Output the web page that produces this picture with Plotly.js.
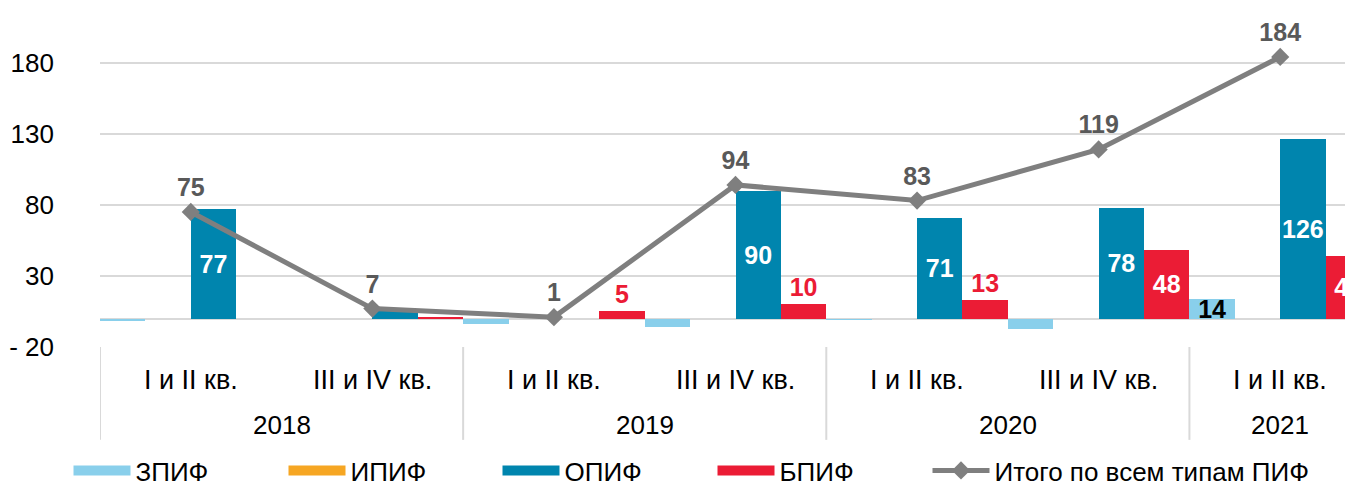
<!DOCTYPE html>
<html>
<head>
<meta charset="utf-8">
<script src="https://cdn.plot.ly/plotly-3.0.1.min.js"></script>
<style>
html,body{margin:0;padding:0;overflow:hidden;background:#fff;}
#chart{width:1371px;height:494px;}
</style>
</head>
<body>
<div id="chart"></div>
<script>
// ---- data ----
const periods = ["I и II кв.","III и IV кв.","I и II кв.","III и IV кв.","I и II кв.","III и IV кв.","I и II кв."];
const years = ["2018","2018","2019","2019","2020","2020","2021"];
const zpif = [-2, -0.5, -4, -6, -1, -7, 14];
const ipif = [0, 0, 0, 0, 0, 0, 0];
const opif = [77, 6.5, 0, 90, 71, 78, 126];
const bpif = [0, 1, 5, 10, 13, 48, 44];
const total = [75, 7, 1, 94, 83, 119, 184];
const yTickVals = [-20, 30, 80, 130, 180];
const yTickText = ["- 20", "30", "80", "130", "180"];
const seriesNames = ["ЗПИФ", "ИПИФ", "ОПИФ", "БПИФ", "Итого по всем типам ПИФ"];

// ---- styling ----
const FONT = "Liberation Sans, Arial, sans-serif";
const C_Z = "#89CFEB", C_I = "#F6A623", C_O = "#0085AE", C_B = "#EB1C35", C_T = "#7F7F7F";
const cats = years.map((y, i) => y + " " + periods[i]);

const zText = zpif.map(v => v >= 10 ? String(v) : "");
const oText = opif.map(v => v >= 10 ? String(v) : "");
const bText = bpif.map(v => v >= 5 ? String(v) : "");
const bPos = bpif.map(v => v >= 20 ? "inside" : "outside");
const bCol = bpif.map(v => v >= 20 ? "#FFFFFF" : C_B);

const lblFont = (c) => ({family: FONT, size: 25, color: c, weight: "bold"});
const legendIds = ["legend", "legend2", "legend3", "legend4", "legend5"];
const legendX = [68.5, 283.5, 497.5, 712.5, 927.5];

const traces = [
  {type: "bar", x: cats, y: zpif, name: seriesNames[0], marker: {color: C_Z}, showlegend: false,
   text: zText, textposition: "inside", insidetextanchor: "middle", constraintext: "none", textangle: 0,
   textfont: lblFont("#000000"), cliponaxis: false, hoverinfo: "y"},
  {type: "bar", x: cats, y: ipif, name: seriesNames[1], marker: {color: C_I}, showlegend: false, hoverinfo: "y"},
  {type: "bar", x: cats, y: opif, name: seriesNames[2], marker: {color: C_O}, showlegend: false,
   text: oText, textposition: "inside", insidetextanchor: "middle", constraintext: "none", textangle: 0,
   textfont: lblFont("#FFFFFF"), cliponaxis: false, hoverinfo: "y"},
  {type: "bar", x: cats, y: bpif, name: seriesNames[3], marker: {color: C_B}, showlegend: false,
   text: bText, textposition: bPos, insidetextanchor: "middle", constraintext: "none", textangle: 0,
   textfont: {family: FONT, size: 25, color: bCol, weight: "bold"}, cliponaxis: false, hoverinfo: "y"},
  // legend entries (wide swatches)
  {type: "scatter", x: [null], y: [null], mode: "lines", name: seriesNames[0], legend: legendIds[0], line: {color: C_Z, width: 14}},
  {type: "scatter", x: [null], y: [null], mode: "lines", name: seriesNames[1], legend: legendIds[1], line: {color: C_I, width: 14}},
  {type: "scatter", x: [null], y: [null], mode: "lines", name: seriesNames[2], legend: legendIds[2], line: {color: C_O, width: 14}},
  {type: "scatter", x: [null], y: [null], mode: "lines", name: seriesNames[3], legend: legendIds[3], line: {color: C_B, width: 14}},
  {type: "scatter", x: cats, y: total, name: seriesNames[4], legend: legendIds[4], mode: "lines+markers+text",
   line: {color: C_T, width: 5}, marker: {symbol: "diamond", size: 14, color: C_T},
   text: total.map(String), textposition: "top center",
   textfont: {family: FONT, size: 25, color: "#595959", weight: "bold"}, cliponaxis: false}
];

const annotations = [];
periods.forEach((p, i) => annotations.push({
  x: i, xref: "x", y: -0.101, yref: "paper", yanchor: "middle", text: p, showarrow: false,
  font: {family: FONT, size: 27, color: "#000"}
}));
const yearCenters = {};
years.forEach((y, i) => { (yearCenters[y] = yearCenters[y] || []).push(i); });
Object.keys(yearCenters).forEach(y => {
  const idx = yearCenters[y];
  annotations.push({x: (idx[0] + idx[idx.length - 1]) / 2, xref: "x", y: -0.2385, yref: "paper",
    yanchor: "middle", text: y, showarrow: false, font: {family: FONT, size: 26, color: "#000"}});
});
const shapes = [];
const bounds = [-0.5];
Object.keys(yearCenters).forEach(y => { const idx = yearCenters[y]; bounds.push(idx[idx.length - 1] + 0.5); });
bounds.forEach(b => shapes.push({type: "line", xref: "x", yref: "paper", x0: b, x1: b, y0: 0, y1: -0.284,
  line: {color: "#D9D9D9", width: 2}}));

const layout = {
  width: 1371, height: 494,
  margin: {l: 100, r: 0, t: 20, b: 147},
  paper_bgcolor: "#fff", plot_bgcolor: "#fff",
  font: {family: FONT, size: 24, color: "#000"},
  barmode: "group", bargap: 0, bargroupgap: 0,
  showlegend: true,
  xaxis: {type: "category", categoryorder: "array", categoryarray: cats, showticklabels: false,
    ticks: "", showgrid: false, showline: false, zeroline: false, range: [-0.5, 6.5]},
  yaxis: {range: [-20, 210], tickvals: yTickVals, ticktext: yTickText, showgrid: true,
    gridcolor: "#D9D9D9", gridwidth: 2, zeroline: true, zerolinecolor: "#D9D9D9", zerolinewidth: 2,
    showline: false, ticks: "", ticklabelstandoff: 45, tickfont: {family: FONT, size: 26, color: "#000"}},
  annotations: annotations,
  shapes: shapes
};
legendIds.forEach((id, i) => {
  layout[id] = {orientation: "h", xref: "container", yref: "container", x: legendX[i] / 1371, y: 0,
    yanchor: "bottom", xanchor: "left", font: {family: FONT, size: 26, color: "#000"}, itemwidth: 57,
    bgcolor: "rgba(0,0,0,0)"};
});

Plotly.newPlot("chart", traces, layout, {displayModeBar: false, staticPlot: true});
</script>
</body>
</html>
